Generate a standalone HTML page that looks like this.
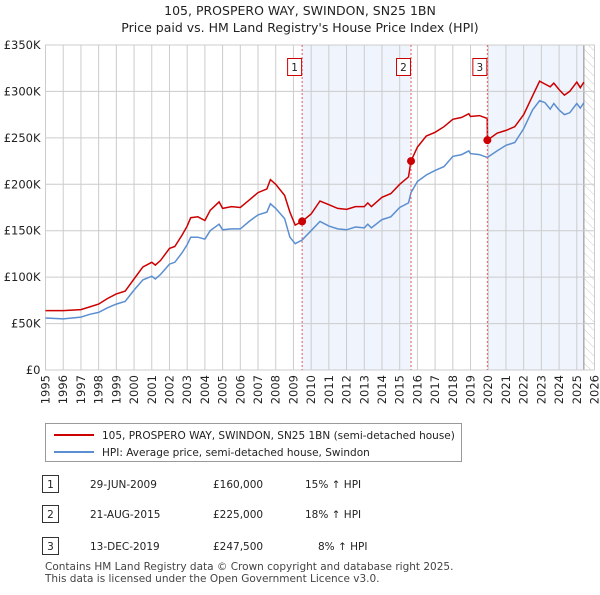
<!DOCTYPE html>
<html><head><meta charset="utf-8"><style>
body{margin:0;background:#fff;font-family:"Liberation Sans","DejaVu Sans",sans-serif;}
svg text{font-family:"DejaVu Sans","Liberation Sans",sans-serif;}
</style></head><body>
<svg id="chart" width="600" height="590" viewBox="0 0 600 590" xmlns="http://www.w3.org/2000/svg">
<defs><pattern id="hatch" width="6" height="6" patternUnits="userSpaceOnUse" patternTransform="rotate(-45)"><line x1="0" y1="0" x2="0" y2="6" stroke="#ccc" stroke-width="1"/></pattern></defs>
<text x="300" y="15" text-anchor="middle" font-size="12.5" fill="#222">105, PROSPERO WAY, SWINDON, SN25 1BN</text>
<text x="300" y="32" text-anchor="middle" font-size="12.5" fill="#222">Price paid vs. HM Land Registry's House Price Index (HPI)</text>
<g id="bg"></g><g id="grid"></g><g id="axes"></g><g id="lines"></g><g id="marks"></g>
<g>
<rect x="45.5" y="423.5" width="416" height="38" fill="#fff" stroke="#999"/>
<line x1="54" y1="435" x2="94" y2="435" stroke="#cc0000" stroke-width="2"/>
<text x="102" y="439" font-size="10.5" fill="#222">105, PROSPERO WAY, SWINDON, SN25 1BN (semi-detached house)</text>
<line x1="54" y1="452" x2="94" y2="452" stroke="#5b8fd1" stroke-width="2"/>
<text x="102" y="456" font-size="10.5" fill="#222">HPI: Average price, semi-detached house, Swindon</text>
</g>
<g font-size="10.5" fill="#222">
<rect x="42.5" y="475.5" width="16" height="17" fill="#fff" stroke="#333"/><text x="50.5" y="488" text-anchor="middle">1</text>
<text x="90" y="488">29-JUN-2009</text><text x="213" y="488">£160,000</text><text x="305" y="488">15% ↑ HPI</text>
<rect x="42.5" y="505.5" width="16" height="17" fill="#fff" stroke="#333"/><text x="50.5" y="518" text-anchor="middle">2</text>
<text x="90" y="518">21-AUG-2015</text><text x="213" y="518">£225,000</text><text x="305" y="518">18% ↑ HPI</text>
<rect x="42.5" y="537.5" width="16" height="17" fill="#fff" stroke="#333"/><text x="50.5" y="550" text-anchor="middle">3</text>
<text x="90" y="550">13-DEC-2019</text><text x="213" y="550">£247,500</text><text x="318" y="550">8% ↑ HPI</text>
</g>
<text x="45" y="570" font-size="10.5" fill="#444">Contains HM Land Registry data © Crown copyright and database right 2025.</text>
<text x="45" y="582" font-size="10.5" fill="#444">This data is licensed under the Open Government Licence v3.0.</text>
</svg>
<script>
const dates=[1995,1996,1997,1997.5,1998,1998.5,1999,1999.5,2000,2000.5,2001,2001.2,2001.5,2002,2002.3,2002.7,2003,2003.2,2003.6,2004,2004.3,2004.8,2005,2005.5,2006,2006.5,2007,2007.5,2007.7,2008,2008.5,2008.8,2009.1,2009.49,2010,2010.5,2011,2011.5,2012,2012.5,2013,2013.2,2013.4,2014,2014.5,2015,2015.5,2015.64,2016,2016.5,2017,2017.5,2018,2018.5,2018.9,2019,2019.5,2019.94,2019.95,2020.5,2021,2021.5,2022,2022.5,2022.9,2023.2,2023.5,2023.7,2024,2024.3,2024.6,2025,2025.2,2025.4];
const hpi=[56,55,57,60,62,67,71,74,86,97,101,98,103,114,116,126,135,143,143,141,150,157,151,152,152,160,167,170,179,174,163,143,136,140,150,160,155,152,151,154,153,157,153,162,165,175,180,191,203,210,215,219,230,232,236,233,232,229,229,236,242,245,260,280,290,288,281,287,280,275,277,287,282,288];
const price=[64,64,65,68,71,77,82,85,98,111,116,113,118,131,133,145,155,164,165,161,172,181,174,176,175,183,191,195,205,200,188,170,156,160,168,182,178,174,173,176,176,180,176,186,190,200,208,225,240,252,256,262,270,272,276,273,274,271,247.5,255,258,262,275,295,311,308,305,309,302,296,300,310,304,310];
const saleDates=[2009.49,2015.64,2019.95];
const salePrices=[160,225,247.5];
const saleLabels=["1","2","3"];
const yTicks=[0,50,100,150,200,250,300,350];
const yTickLabels=["£0","£50K","£100K","£150K","£200K","£250K","£300K","£350K"];
const xYears=[1995,1996,1997,1998,1999,2000,2001,2002,2003,2004,2005,2006,2007,2008,2009,2010,2011,2012,2013,2014,2015,2016,2017,2018,2019,2020,2021,2022,2023,2024,2025,2026];
const X0=45.5,X1=594.5,Y0=370,Y1=45;
const xs=d=>X0+(d-1995)/(2026-1995)*(X1-X0);
const ys=v=>Y0-v/350*(Y0-Y1);
const NS="http://www.w3.org/2000/svg";
function mk(tag,attrs,parent){const e=document.createElementNS(NS,tag);for(const k in attrs)e.setAttribute(k,attrs[k]);document.getElementById(parent).appendChild(e);return e;}
let s=mk('rect',{x:xs(saleDates[0]),y:Y1,width:xs(saleDates[1])-xs(saleDates[0]),height:Y0-Y1,fill:'#f0f4fd'},'bg');


s=mk('rect',{x:xs(saleDates[2]),y:Y1,width:xs(2025.4)-xs(saleDates[2]),height:Y0-Y1,fill:'#f0f4fd'},'bg');


s=mk('rect',{x:xs(2025.4),y:Y1,width:X1-xs(2025.4),height:Y0-Y1,fill:'url(#hatch)'},'bg');


mk('line',{x1:xs(2025.4),y1:Y1,x2:xs(2025.4),y2:Y0,stroke:'#888','stroke-width':1},'bg');
yTicks.forEach((v,i)=>{
 const l=mk('line',{x1:X0,x2:X1,y1:ys(v),y2:ys(v),stroke:'#cccccc','stroke-width':1},'grid');
 
 
 const t=mk('text',{x:X0-5,y:ys(v)+4,'text-anchor':'end','font-size':'11.5',fill:'#222'},'axes');
 t.textContent=yTickLabels[i];
 
 
});
xYears.forEach(y=>{
 const l=mk('line',{x1:xs(y),x2:xs(y),y1:Y1,y2:Y0,stroke:'#cccccc','stroke-width':1},'grid');
 
 
 const t=mk('text',{x:0,y:0,'text-anchor':'end','font-size':'11.5',fill:'#222',transform:`translate(${xs(y)+4},${Y0+5}) rotate(-90)`},'axes');
 t.textContent=y;
 
 
});
saleDates.forEach((d,i)=>{
 const l=mk('line',{x1:xs(d),x2:xs(d),y1:Y1,y2:Y0,stroke:'#e06060','stroke-width':1,'stroke-dasharray':'2,2'},'marks');
 
 
});
function path(arr){return arr.map((v,i)=>(i?'L':'M')+xs(dates[i]).toFixed(1)+','+ys(v).toFixed(1)).join('');}
let p=mk('path',{d:path(hpi),fill:'none',stroke:'#5b8fd1','stroke-width':1.5},'lines');


p=mk('path',{d:path(price),fill:'none',stroke:'#cc0000','stroke-width':1.5},'lines');


saleDates.forEach((d,i)=>{
 const c=mk('circle',{cx:xs(d),cy:ys(salePrices[i]),r:4,fill:'#cc0000'},'marks');
 
 
 const r=mk('rect',{x:xs(d)-14.5,y:58.5,width:14,height:17,fill:'#fff',stroke:'#cc0000'},'marks');
 
 
 const t=mk('text',{x:xs(d)-7.5,y:71,'text-anchor':'middle','font-size':'10.5',fill:'#222'},'marks');
 t.textContent=saleLabels[i];
 
 
});
mk('rect',{x:X0,y:Y1,width:X1-X0,height:Y0-Y1,fill:'none',stroke:'#cccccc'},'axes');
</script>
</body></html>
